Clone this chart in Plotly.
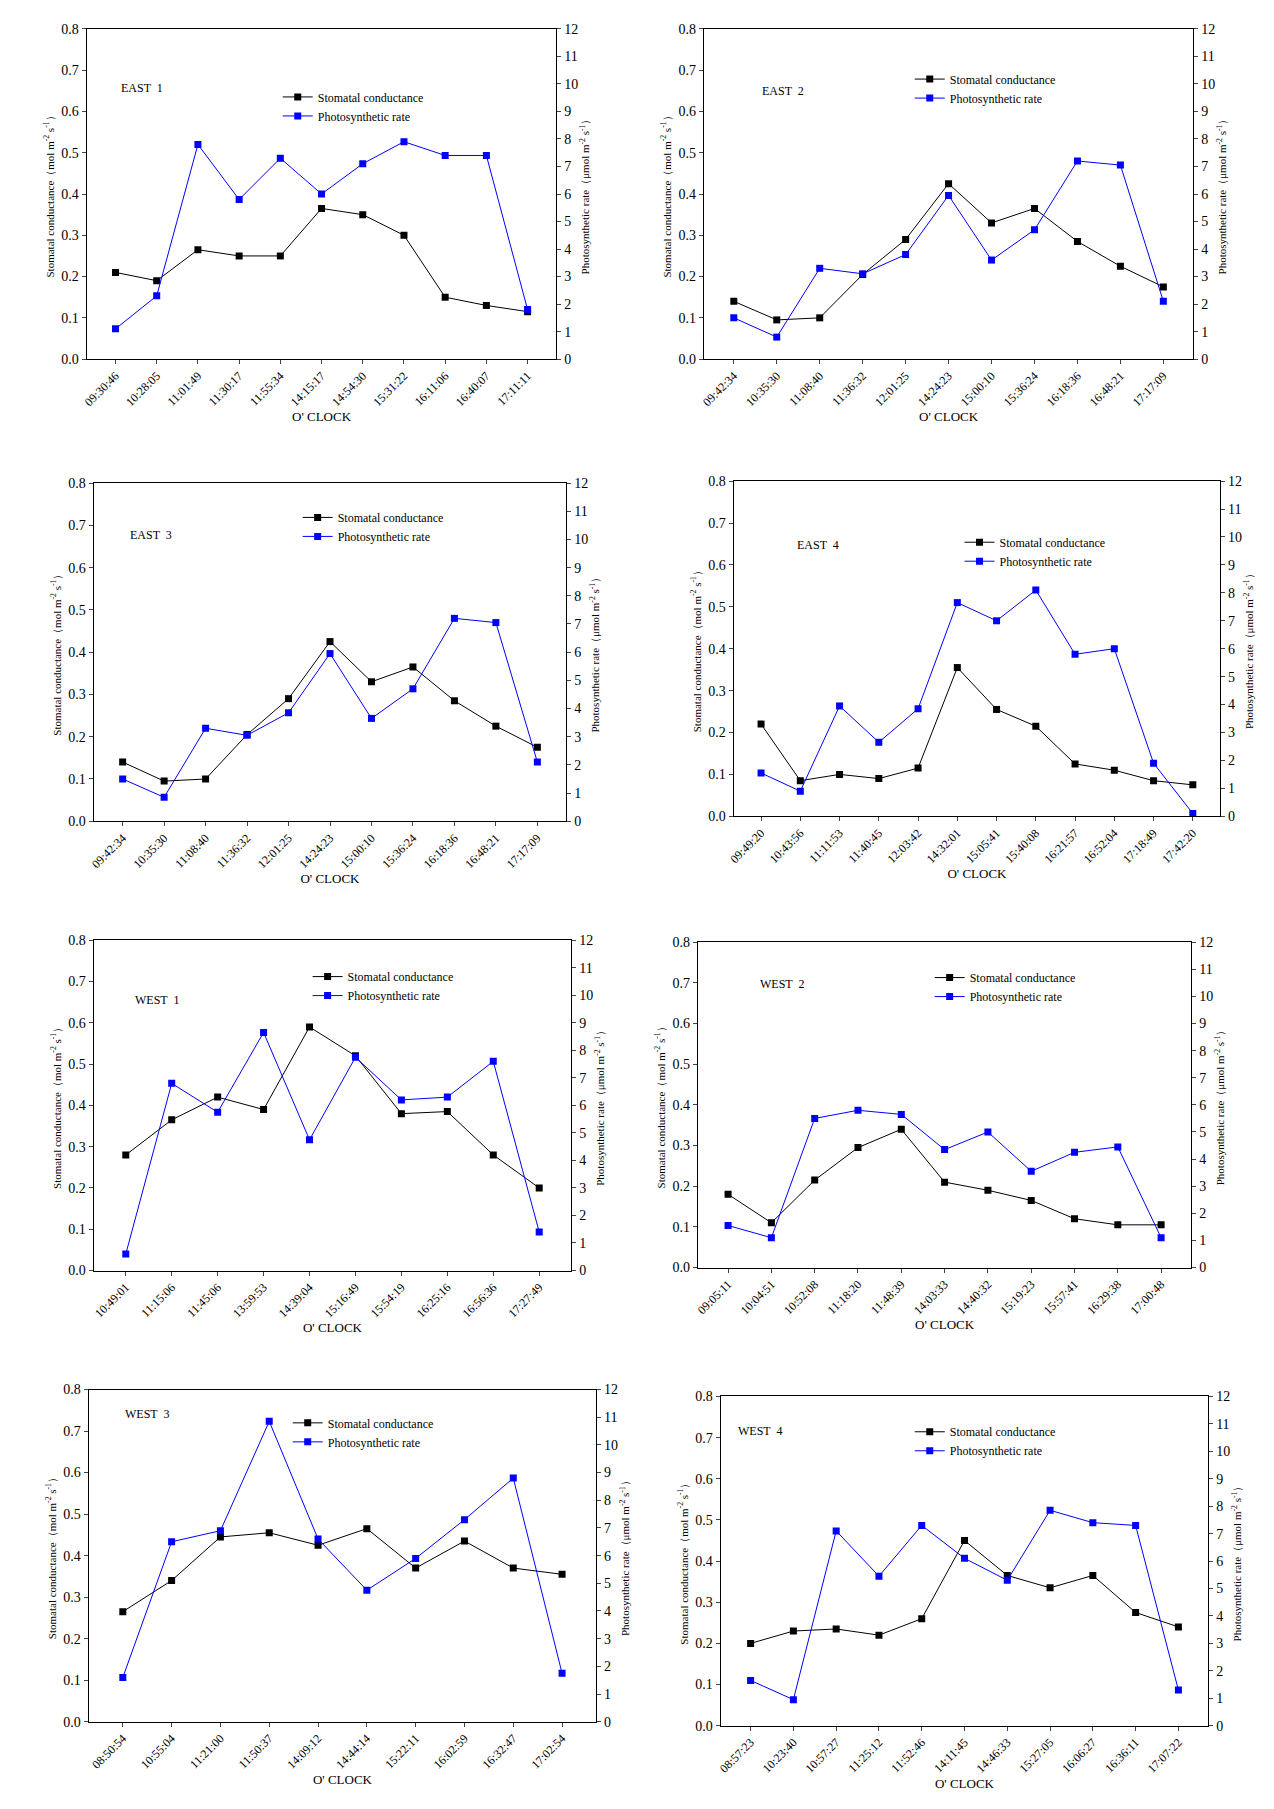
import plotly.graph_objects as go

# ---- data ----
east1_time = ["09:30:46", "10:28:05", "11:01:49", "11:30:17", "11:55:34", "14:15:17",
              "14:54:30", "15:31:22", "16:11:06", "16:40:07", "17:11:11"]
east1_gs = [0.21, 0.19, 0.265, 0.25, 0.25, 0.365, 0.35, 0.30, 0.15, 0.13, 0.115]
east1_pn = [1.1, 2.3, 7.8, 5.8, 7.3, 6.0, 7.1, 7.9, 7.4, 7.4, 1.8]

east2_time = ["09:42:34", "10:35:30", "11:08:40", "11:36:32", "12:01:25", "14:24:23",
              "15:00:10", "15:36:24", "16:18:36", "16:48:21", "17:17:09"]
east2_gs = [0.14, 0.095, 0.10, 0.205, 0.29, 0.425, 0.33, 0.365, 0.285, 0.225, 0.175]
east2_pn = [1.5, 0.8, 3.3, 3.1, 3.8, 5.95, 3.6, 4.7, 7.2, 7.05, 2.1]

east3_time = ["09:42:34", "10:35:30", "11:08:40", "11:36:32", "12:01:25", "14:24:23",
              "15:00:10", "15:36:24", "16:18:36", "16:48:21", "17:17:09"]
east3_gs = [0.14, 0.095, 0.10, 0.205, 0.29, 0.425, 0.33, 0.365, 0.285, 0.225, 0.175]
east3_pn = [1.5, 0.85, 3.3, 3.05, 3.85, 5.95, 3.65, 4.7, 7.2, 7.05, 2.1]

east4_time = ["09:49:20", "10:43:56", "11:11:53", "11:40:45", "12:03:42", "14:32:01",
              "15:05:41", "15:40:08", "16:21:57", "16:52:04", "17:18:49", "17:42:20"]
east4_gs = [0.22, 0.085, 0.10, 0.09, 0.115, 0.355, 0.255, 0.215, 0.125, 0.11, 0.085, 0.075]
east4_pn = [1.55, 0.9, 3.95, 2.65, 3.85, 7.65, 7.0, 8.1, 5.8, 6.0, 1.9, 0.1]

west1_time = ["10:49:01", "11:15:06", "11:45:06", "13:59:53", "14:39:04", "15:16:49",
              "15:54:19", "16:25:16", "16:56:36", "17:27:49"]
west1_gs = [0.28, 0.365, 0.42, 0.39, 0.59, 0.52, 0.38, 0.385, 0.28, 0.20]
west1_pn = [0.6, 6.8, 5.75, 8.65, 4.75, 7.75, 6.2, 6.3, 7.6, 1.4]

west2_time = ["09:05:11", "10:04:51", "10:52:08", "11:18:20", "11:48:39", "14:03:33",
              "14:40:32", "15:19:23", "15:57:41", "16:29:38", "17:00:48"]
west2_gs = [0.18, 0.11, 0.215, 0.295, 0.34, 0.21, 0.19, 0.165, 0.12, 0.105, 0.105]
west2_pn = [1.55, 1.1, 5.5, 5.8, 5.65, 4.35, 5.0, 3.55, 4.25, 4.45, 1.1]

west3_time = ["08:50:54", "10:55:04", "11:21:00", "11:50:37", "14:09:12", "14:44:14",
              "15:22:11", "16:02:59", "16:32:47", "17:02:54"]
west3_gs = [0.265, 0.34, 0.445, 0.455, 0.425, 0.465, 0.37, 0.435, 0.37, 0.355]
west3_pn = [1.6, 6.5, 6.9, 10.85, 6.6, 4.75, 5.9, 7.3, 8.8, 1.75]

west4_time = ["08:57:23", "10:23:40", "10:57:27", "11:25:12", "11:52:46", "14:11:45",
              "14:46:33", "15:27:05", "16:06:27", "16:36:11", "17:07:22"]
west4_gs = [0.20, 0.23, 0.235, 0.22, 0.26, 0.45, 0.365, 0.335, 0.365, 0.275, 0.24]
west4_pn = [1.65, 0.95, 7.1, 5.45, 7.3, 6.1, 5.3, 7.85, 7.4, 7.3, 1.3]

panels = [
    ("EAST  1", east1_time, east1_gs, east1_pn),
    ("EAST  2", east2_time, east2_gs, east2_pn),
    ("EAST  3", east3_time, east3_gs, east3_pn),
    ("EAST  4", east4_time, east4_gs, east4_pn),
    ("WEST  1", west1_time, west1_gs, west1_pn),
    ("WEST  2", west2_time, west2_gs, west2_pn),
    ("WEST  3", west3_time, west3_gs, west3_pn),
    ("WEST  4", west4_time, west4_gs, west4_pn),
]

# plot boxes in pixels: left, right, top, bottom; label pos; legend pos
W, H = 1274, 1809
boxes = [
    (73, 545, 14, 347, (105, 65), (265, 68)),
    (693, 1185, 14, 347, (750, 68), (900, 50)),
    (80, 555, 472, 813, (115, 515), (285, 492)),
    (723, 1212, 470, 808, (785, 525), (950, 517)),
    (80, 560, 933, 1266, (120, 993), (295, 955)),
    (687, 1183, 935, 1263, (748, 977), (920, 956)),
    (75, 585, 1386, 1721, (110, 1420), (275, 1405)),
    (710, 1200, 1393, 1725, (725, 1437), (900, 1414)),
]

FONT = "Liberation Serif"
fig = go.Figure()
legend_layouts = {}
axis_layouts = {}
annotations = []

for i, ((label, t, gs, pn), (l, r, tp, bt, lab, leg)) in enumerate(zip(panels, boxes)):
    xn = "x" if i == 0 else f"x{2*i+1}"
    yl = "y" if i == 0 else f"y{2*i+1}"
    yr = f"y{2*i+2}"
    legname = "legend" if i == 0 else f"legend{i+1}"
    fig.add_trace(go.Scatter(x=t, y=gs, mode="lines+markers", name="Stomatal conductance",
                             line=dict(color="black", width=1),
                             marker=dict(symbol="square", size=7, color="black"),
                             xaxis=xn, yaxis=yl, legend=legname))
    fig.add_trace(go.Scatter(x=t, y=pn, mode="lines+markers", name="Photosynthetic rate",
                             line=dict(color="#0000ff", width=1),
                             marker=dict(symbol="square", size=7, color="#0000ff"),
                             xaxis=xn, yaxis=yr, legend=legname))
    xd = [l / W, r / W]
    yd = [1 - bt / H, 1 - tp / H]
    n = len(t)
    xk = "xaxis" if i == 0 else f"xaxis{2*i+1}"
    ylk = "yaxis" if i == 0 else f"yaxis{2*i+1}"
    yrk = f"yaxis{2*i+2}"
    axis_layouts[xk] = dict(domain=xd, anchor=yl, type="category", range=[-0.7, n - 0.3],
                            tickangle=-45, showline=True, linecolor="black", mirror=True,
                            ticks="outside", ticklen=4, showgrid=False,
                            title=dict(text="O' CLOCK", standoff=2, font=dict(size=13)),
                            tickfont=dict(size=12))
    axis_layouts[ylk] = dict(domain=yd, anchor=xn, range=[0, 0.8], dtick=0.1, tick0=0,
                             tickformat=".1f", showline=True, linecolor="black",
                             ticks="outside", ticklen=4, showgrid=False, zeroline=False,
                             title=dict(text="Stomatal conductance（mol m<sup>-2</sup> s<sup>-1</sup>）",
                                        font=dict(size=11), standoff=4),
                             tickfont=dict(size=14))
    axis_layouts[yrk] = dict(domain=yd, anchor=xn, overlaying=yl, side="right",
                             range=[0, 12], dtick=1, showline=True, linecolor="black",
                             ticks="outside", ticklen=4, showgrid=False, zeroline=False,
                             title=dict(text="Photosynthetic rate（μmol m<sup>-2</sup> s<sup>-1</sup>）",
                                        font=dict(size=11), standoff=4),
                             tickfont=dict(size=14))
    legend_layouts[legname] = dict(x=leg[0] / W, y=1 - leg[1] / H, xanchor="left",
                                   yanchor="top", bgcolor="rgba(0,0,0,0)",
                                   font=dict(size=12, family=FONT), tracegroupgap=0,
                                   itemwidth=30)
    annotations.append(dict(x=lab[0] / W, y=1 - lab[1] / H, xref="paper", yref="paper",
                            text=label, showarrow=False, xanchor="left",
                            font=dict(size=12, family=FONT)))

fig.update_layout(width=W, height=H, margin=dict(l=0, r=0, t=0, b=0),
                  plot_bgcolor="white", paper_bgcolor="white",
                  font=dict(family=FONT, color="black"),
                  annotations=annotations, **axis_layouts, **legend_layouts)
fig.write_html("out.html")
